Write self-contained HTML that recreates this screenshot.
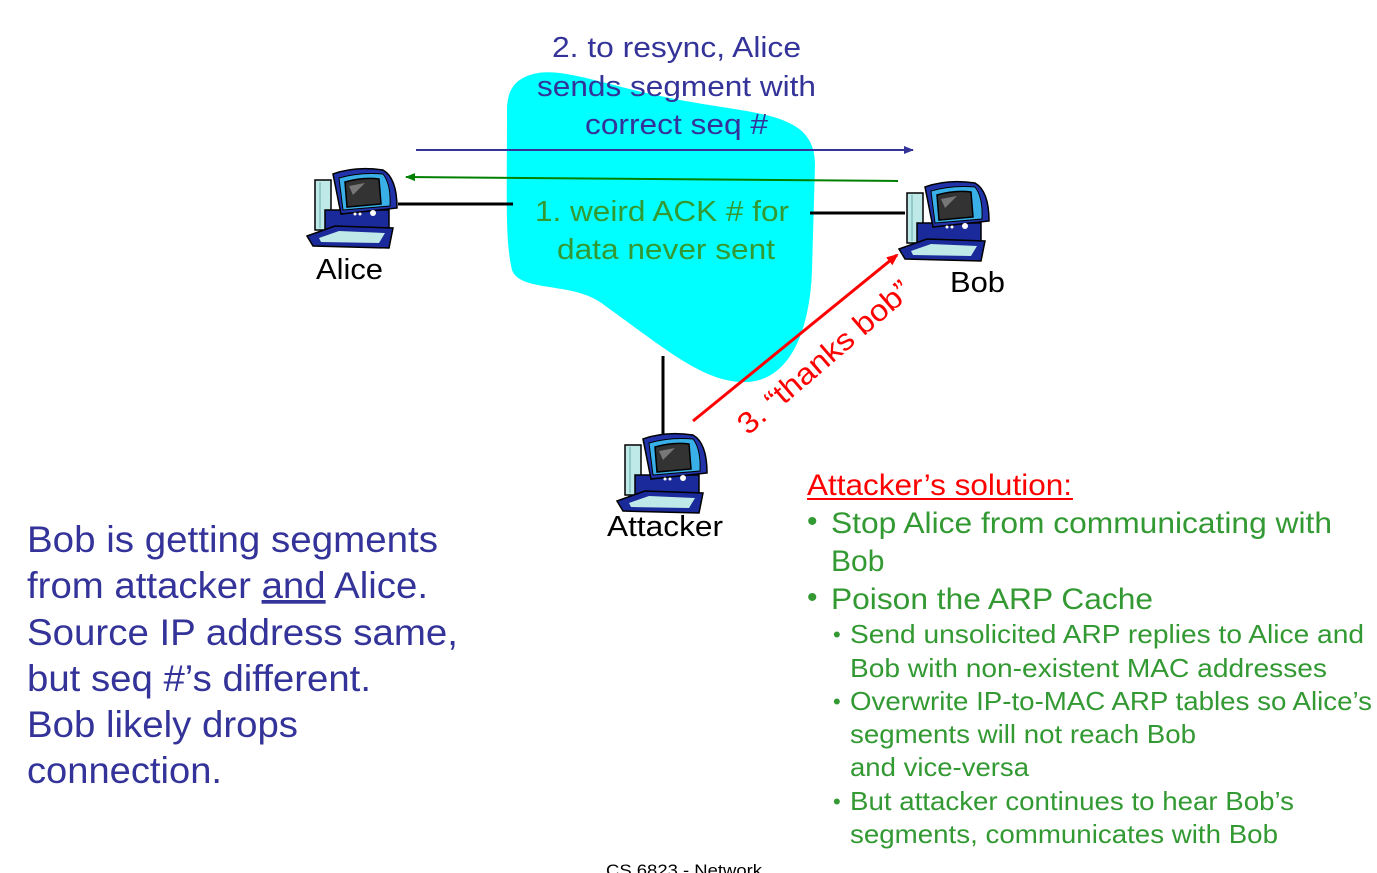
<!DOCTYPE html>
<html><head><meta charset="utf-8"><style>
html,body{margin:0;padding:0;background:#fff}
svg{display:block}
text{font-family:"Liberation Sans",Arial,sans-serif}
</style></head><body>
<svg width="1377" height="873" viewBox="0 0 1377 873" xmlns="http://www.w3.org/2000/svg">
<defs>
<g id="pc">
  <rect x="10" y="12" width="16" height="50" fill="#bfe8e8" stroke="#000" stroke-width="1.5"/>
  <line x1="15" y1="14" x2="15" y2="60" stroke="#6aa" stroke-width="1"/>
  <rect x="20" y="42" width="64" height="20" fill="#1a2a9a" stroke="#000" stroke-width="1.5"/>
  <path d="M28 6 Q50 -2 78 2 Q92 10 92 40 L36 46 Z" fill="#2233aa" stroke="#000" stroke-width="1.5"/>
  <path d="M34 10 Q55 4 78 6 Q86 16 85 38 L38 42 Z" fill="#3ab0e8" stroke="#000" stroke-width="1"/>
  <path d="M40 14 Q58 9 74 11 L76 36 L42 39 Z" fill="#333" stroke="#000" stroke-width="1.5"/>
  <path d="M44 18 L60 15 L48 27 Z" fill="#777"/>
  <circle cx="68" cy="45" r="3" fill="#fff"/><circle cx="55" cy="46" r="1.5" fill="#fff"/><circle cx="50" cy="46" r="1.5" fill="#fff"/>
  <path d="M2 68 L30 58 L88 60 L84 80 L8 78 Z" fill="#1a2a9a" stroke="#000" stroke-width="1.5"/>
  <path d="M14 70 L34 63 L80 65 L74 75 L16 74 Z" fill="#bfe8e8"/>
</g>
<marker id="ab" markerWidth="10" markerHeight="8" refX="9" refY="4" orient="auto" markerUnits="userSpaceOnUse"><path d="M0 0 L10 4 L0 8 Z" fill="#333399"/></marker>
<marker id="ag" markerWidth="10" markerHeight="8" refX="9" refY="4" orient="auto" markerUnits="userSpaceOnUse"><path d="M0 0 L10 4 L0 8 Z" fill="#008000"/></marker>
<marker id="ar" markerWidth="12" markerHeight="10" refX="10" refY="5" orient="auto" markerUnits="userSpaceOnUse"><path d="M0 0 L12 5 L0 10 Z" fill="#ff0000"/></marker>
</defs>

<path d="M530,75 C560,65 600,85 680,100 C760,115 815,112 815,165 L812,270 C810,330 790,385 740,382 C700,380 660,345 600,302 C570,282 520,292 512,270 C505,240 507,200 507,110 C507,90 515,80 530,75 Z" fill="#00ffff"/>

<line x1="398" y1="204" x2="513" y2="204" stroke="#000" stroke-width="3"/>
<line x1="810" y1="213" x2="905" y2="213" stroke="#000" stroke-width="3"/>
<line x1="663" y1="356" x2="663" y2="434" stroke="#000" stroke-width="3"/>

<line x1="416" y1="150" x2="913" y2="150" stroke="#333399" stroke-width="2" marker-end="url(#ab)"/>
<line x1="898" y1="181" x2="406" y2="177" stroke="#008000" stroke-width="2" marker-end="url(#ag)"/>
<line x1="693" y1="421" x2="897" y2="255" stroke="#ff0000" stroke-width="3" marker-end="url(#ar)"/>

<use href="#pc" x="305" y="168"/>
<use href="#pc" x="897" y="181"/>
<use href="#pc" x="615" y="433"/>

<g fill="#333399" font-size="29">
<text x="552" y="57" textLength="249" lengthAdjust="spacingAndGlyphs">2. to resync, Alice</text>
<text x="537" y="96" textLength="279" lengthAdjust="spacingAndGlyphs">sends segment with</text>
<text x="585" y="134" textLength="183" lengthAdjust="spacingAndGlyphs">correct seq #</text>
</g>
<g fill="#339933" font-size="29">
<text x="535" y="221" textLength="254" lengthAdjust="spacingAndGlyphs">1. weird ACK # for</text>
<text x="557" y="259" textLength="218" lengthAdjust="spacingAndGlyphs">data never sent</text>
</g>
<g fill="#000" font-size="29">
<text x="316" y="279" textLength="67" lengthAdjust="spacingAndGlyphs">Alice</text>
<text x="950" y="292" textLength="55" lengthAdjust="spacingAndGlyphs">Bob</text>
<text x="607" y="536" textLength="116" lengthAdjust="spacingAndGlyphs">Attacker</text>
</g>
<text x="0" y="0" fill="#ff0000" font-size="30" transform="translate(748,436) rotate(-40.7)" textLength="218" lengthAdjust="spacingAndGlyphs">3. “thanks bob”</text>

<g fill="#333399" font-size="37">
<text x="27" y="552" textLength="411" lengthAdjust="spacingAndGlyphs">Bob is getting segments</text>
<text x="27" y="598" textLength="401" lengthAdjust="spacingAndGlyphs">from attacker <tspan text-decoration="underline">and</tspan> Alice.</text>
<text x="27" y="645" textLength="431" lengthAdjust="spacingAndGlyphs">Source IP address same,</text>
<text x="27" y="691" textLength="344" lengthAdjust="spacingAndGlyphs">but seq #’s different.</text>
<text x="27" y="737" textLength="271" lengthAdjust="spacingAndGlyphs">Bob likely drops</text>
<text x="27" y="783" textLength="195" lengthAdjust="spacingAndGlyphs">connection.</text>
</g>

<text x="807" y="495" fill="#ff0000" font-size="30" textLength="265" lengthAdjust="spacingAndGlyphs">Attacker’s solution:</text>
<line x1="807" y1="499" x2="1073" y2="499" stroke="#ff0000" stroke-width="2"/>
<g fill="#339933">
<g font-size="30">
<text x="807" y="531">•</text>
<text x="831" y="533" textLength="501" lengthAdjust="spacingAndGlyphs">Stop Alice from communicating with</text>
<text x="831" y="571">Bob</text>
<text x="807" y="607">•</text>
<text x="831" y="609" textLength="322" lengthAdjust="spacingAndGlyphs">Poison the ARP Cache</text>
</g>
<g font-size="26">
<text x="833" y="642" font-size="22">•</text>
<text x="850" y="643" textLength="514" lengthAdjust="spacingAndGlyphs">Send unsolicited ARP replies  to Alice and</text>
<text x="850" y="677" textLength="477" lengthAdjust="spacingAndGlyphs">Bob with non-existent  MAC addresses</text>
<text x="833" y="709" font-size="22">•</text>
<text x="850" y="710" textLength="522" lengthAdjust="spacingAndGlyphs">Overwrite IP-to-MAC ARP tables so Alice’s</text>
<text x="850" y="743" textLength="346" lengthAdjust="spacingAndGlyphs">segments will not reach Bob</text>
<text x="850" y="776" textLength="179" lengthAdjust="spacingAndGlyphs">and vice-versa</text>
<text x="833" y="809" font-size="22">•</text>
<text x="850" y="810" textLength="444" lengthAdjust="spacingAndGlyphs">But attacker continues to hear Bob’s</text>
<text x="850" y="843" textLength="428" lengthAdjust="spacingAndGlyphs">segments, communicates with Bob</text>
</g>
</g>
<text x="606" y="876" fill="#000" font-size="17" textLength="156" lengthAdjust="spacingAndGlyphs">CS 6823 - Network</text>
</svg>
</body></html>
